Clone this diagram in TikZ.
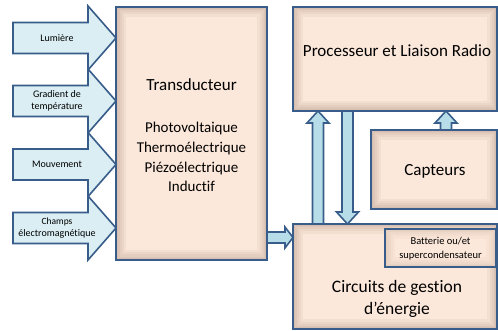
\documentclass[tikz,border=0pt]{standalone}
\usepackage{fontspec}
\setmainfont{Carlito}[Ligatures=NoCommon]
\usetikzlibrary{calc}
\definecolor{bord}{RGB}{56,93,138}
\definecolor{lightarr}{RGB}{218,238,243}
\definecolor{midarr}{RGB}{183,222,232}
\definecolor{peach}{RGB}{252,232,218}
\definecolor{shad}{RGB}{130,100,80}
\tikzset{
  box/.style={draw=bord, line width=1.6pt, fill=peach, rectangle, inner sep=0pt, outer sep=0pt},
  larr/.style={draw=bord, line width=1.6pt, fill=lightarr, line join=miter},
  varr/.style={draw=bord, line width=1.6pt, fill=midarr, line join=miter},
  small/.style={font=\fontsize{10}{12}\selectfont, align=center},
  big/.style={font=\fontsize{17}{21}\selectfont, align=center},
}
\newcommand\innershadow[2]{% node name, strength
  \begin{scope}
    \clip (#1.south west) rectangle (#1.north east);
    \foreach \w in {20,15,11,7,4}
      \draw[line width=\w pt, draw=shad, opacity=#2] (#1.south west) rectangle (#1.north east);
  \end{scope}
  \draw[draw=bord, line width=1.6pt] (#1.south west) rectangle (#1.north east);
}
% vertical block arrow: tail, tip, sign (- for upward, + for downward)
\newcommand\vblock[3]{%
  \draw[varr] let \p1=(#1), \p2=(#2) in
    (\x1-5.5pt,\y1) -- (\x1-5.5pt,\y2#3 12pt) -- (\x1-11pt,\y2#3 12pt) -- (\x1,\y2)
    -- (\x1+11pt,\y2#3 12pt) -- (\x1+5.5pt,\y2#3 12pt) -- (\x1+5.5pt,\y1) -- cycle;}
% left input arrow with label: centre y, name, text
\newcommand\inarrow[3]{%
  \draw[larr] (13,#1-15.5) -- (88,#1-15.5) -- (88,#1-32) -- (116,#1) -- (88,#1+32)
    -- (88,#1+15.5) -- (13,#1+15.5) -- cycle;
  \node[small] (#2) at (57,#1) {#3};}
\begin{document}
\begin{tikzpicture}[x=1pt,y=-1pt]
\useasboundingbox (0,0) rectangle (498,331);

% input arrows
\inarrow{38}{lum}{Lumière}
\inarrow{101}{grad}{Gradient de\\température}
\inarrow{164.5}{mouv}{Mouvement}
\inarrow{228}{champ}{\fontsize{9.5}{11.5}\selectfont Champs\\électromagnétique}

% boxes
\node[box, minimum width=151pt, minimum height=253pt] (trans) at (191.5,133.5) {};
\innershadow{trans}{0.065}
\node[big] (transT) at (191.5,85) {Transducteur};
\node[font=\fontsize{15}{19.7}\selectfont, align=center] (transL) at (191.5,157)
  {Photovoltaique\\Thermoélectrique\\Piézoélectrique\\Inductif};

\node[box, minimum width=204pt, minimum height=104pt] (proc) at (395,59) {};
\innershadow{proc}{0.065}
\node[big] (procT) at (397,51) {Processeur et Liaison Radio};

\node[box, minimum width=126pt, minimum height=79pt] (capt) at (434,169.5) {};
\innershadow{capt}{0.065}
\node[big] (captT) at (435,171) {Capteurs};

\node[box, minimum width=204pt, minimum height=105pt] (circ) at (395,276.5) {};
\innershadow{circ}{0.065}
\node[font=\fontsize{17.5}{22}\selectfont, align=center] (circT) at (397,299) {Circuits de gestion\\d’énergie};

\node[box, minimum width=111pt, minimum height=38pt] (batt) at (440.5,248) {};
\innershadow{batt}{0.04}
\node[font=\fontsize{10.5}{14.5}\selectfont, align=center] (battT) at (440.5,248.5) {Batterie ou/et\\supercondensateur};

% connectors
\coordinate (xa) at (318,0);
\coordinate (xb) at (347.5,0);
\coordinate (xc) at (446,0);
\vblock{xa |- circ.north}{xa |- proc.south}{-}
\vblock{xb |- proc.south}{xb |- circ.north}{+}
\vblock{xc |- capt.north}{xc |- proc.south}{-}

\coordinate (yh) at (0,237.5);
\draw[varr] let \p1=(trans.east |- yh), \p2=(circ.west |- yh) in
  (\x1,\y1+5.5pt) -- (\x2-8pt,\y1+5.5pt) -- (\x2-8pt,\y1+10.5pt) -- (\x2,\y1)
  -- (\x2-8pt,\y1-10.5pt) -- (\x2-8pt,\y1-5.5pt) -- (\x1,\y1-5.5pt) -- cycle;
\end{tikzpicture}
\end{document}
